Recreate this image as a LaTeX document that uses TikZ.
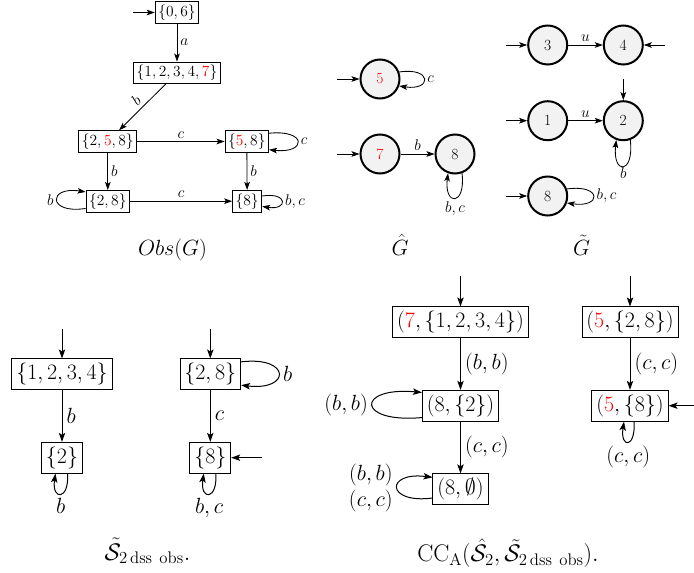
\RequirePackage{fix-cm}
\documentclass[tikz,border=0pt]{standalone}
\usetikzlibrary{arrows.meta}
\tikzset{
  ar/.style={-{Stealth[length=8pt,width=5.6pt,inset=1.8pt]}, line width=0.85pt},
  bar/.style={-{Stealth[length=9pt,width=6.4pt,inset=2pt]}, line width=1pt},
  tbox/.style={draw, line width=0.8pt, inner sep=3.1pt, font=\fontsize{15.5}{18}\selectfont},
  tcirc/.style={circle, draw, line width=2pt, fill=gray!10, minimum size=39pt, inner sep=0pt, font=\fontsize{15.5}{18}\selectfont},
  tlab/.style={font=\fontsize{15.5}{18}\selectfont, inner sep=3pt},
  bbox/.style={draw, line width=0.9pt, inner sep=4.4pt, font=\fontsize{22}{26}\selectfont},
  blab/.style={font=\fontsize{22}{26}\selectfont, inner sep=4pt},
  tcap/.style={font=\fontsize{22}{26}\selectfont, anchor=base, inner sep=0pt},
  bcap/.style={font=\fontsize{24}{28}\selectfont, anchor=base, inner sep=0pt},
}
\begin{document}
\begin{tikzpicture}[x=1pt,y=-1pt]
\useasboundingbox (0,0) rectangle (694,573);

% ---------- Obs(G) ----------
\node[tbox] (o06) at (177,12.5) {$\{0,6\}$};
\node[tbox] (o12347) at (177,72.8) {$\{1,2,3,4,\textcolor{red}{7}\}$};
\node[tbox] (o258) at (107.8,141.5) {$\{2,\textcolor{red}{5},8\}$};
\node[tbox] (o58) at (246.8,141.5) {$\{\textcolor{red}{5},8\}$};
\node[tbox] (o28) at (107.8,201.2) {$\{2,8\}$};
\node[tbox] (o8) at (247.2,201.2) {$\{8\}$};
\coordinate (i06) at (133,12.5);
\draw[ar] (i06) -- (o06);
\draw[ar] (o06) -- node[tlab,right]{$a$} (o12347);
\draw[ar] (o12347) -- node[tlab,above,sloped]{$b$} (o258);
\draw[ar] (o258) -- node[tlab,above]{$c$} (o58);
\draw[ar] (o258) -- node[tlab,right]{$b$} (o28);
\draw[ar] (o58) -- node[tlab,right]{$b$} (o8);
\draw[ar] (o28) -- node[tlab,above]{$c$} (o8);
\draw[ar] ([yshift=-3pt]o58.north east) .. controls +(38,-4) and +(38,4) .. ([yshift=3pt]o58.south east) node[pos=.5,tlab,right]{$c$};
\draw[ar] ([yshift=4pt]o28.south west) .. controls +(-38,6) and +(-38,-6) .. ([yshift=-2pt]o28.north west) node[pos=.5,tlab,left]{$b$};
\draw[ar] ([yshift=-6pt]o8.north east) .. controls +(26,-4) and +(26,4) .. ([yshift=6pt]o8.south east) node[pos=.5,tlab,right]{$b,c$};
\node[tcap] (capobs) at (172.5,255) {$Obs(G)$};

% ---------- G hat ----------
\node[tcirc] (h5) at (380,79) {\textcolor{red}{5}};
\node[tcirc] (h7) at (380,154) {\textcolor{red}{7}};
\node[tcirc] (h8) at (455,154) {8};
\coordinate (ih5) at (337,79);
\coordinate (ih7) at (337,154);
\draw[ar] (ih5) -- (h5);
\draw[ar] (ih7) -- (h7);
\draw[ar] (h7) -- node[tlab,above]{$b$} (h8);
\draw[ar] (h5.20) .. controls +(33,-5) and +(33,5) .. (h5.-20) node[pos=.5,tlab,right]{$c$};
\draw[ar] (h8.-70) .. controls +(4,33) and +(-4,33) .. (h8.-110) node[pos=.5,tlab,below]{$b,c$};
\node[tcap] (caph) at (400,255) {$\hat{G}$};

% ---------- G tilde ----------
\node[tcirc] (g3) at (547.7,45) {3};
\node[tcirc] (g4) at (623.3,45) {4};
\node[tcirc] (g1) at (547.7,120.7) {1};
\node[tcirc] (g2) at (623.3,120.7) {2};
\node[tcirc] (g8) at (547.7,196) {8};
\coordinate (ig3) at (505.7,45);
\coordinate (ig1) at (505.7,120.7);
\coordinate (ig8) at (505.7,196);
\coordinate (ig4) at (665,45);
\coordinate (ig2) at (623.3,79);
\draw[ar] (ig3) -- (g3);
\draw[ar] (ig1) -- (g1);
\draw[ar] (ig8) -- (g8);
\draw[ar] (ig4) -- (g4);
\draw[ar] (ig2) -- (g2);
\draw[ar] (g3) -- node[tlab,above]{$u$} (g4);
\draw[ar] (g1) -- node[tlab,above]{$u$} (g2);
\draw[ar] (g2.-70) .. controls +(4,35) and +(-4,35) .. (g2.-110) node[pos=.5,tlab,below,inner sep=1pt]{$b$};
\draw[ar] (g8.20) .. controls +(35,-5) and +(35,5) .. (g8.-20) node[pos=.5,tlab,right]{$b,c$};
\node[tcap] (capg) at (581.5,255) {$\tilde{G}$};

% ---------- S tilde dss obs ----------
\node[bbox] (s1234) at (62,374.3) {$\{1,2,3,4\}$};
\node[bbox] (s2) at (62,457.7) {$\{2\}$};
\node[bbox] (s28) at (210.3,374.3) {$\{2,8\}$};
\node[bbox] (s8) at (210.3,457.7) {$\{8\}$};
\coordinate (is1234) at (62,329);
\coordinate (is28) at (210.3,329);
\coordinate (is8) at (261.7,457.7);
\draw[bar] (is1234) -- (s1234);
\draw[bar] (is28) -- (s28);
\draw[bar] (is8) -- (s8);
\draw[bar] (s1234) -- node[blab,right]{$b$} (s2);
\draw[bar] (s28) -- node[blab,right]{$c$} (s8);
\draw[bar] ([xshift=5.5pt]s2.south) .. controls +(2,27) and +(-4,27) .. ([xshift=-6.5pt]s2.south) node[pos=.5,blab,below]{$b$};
\draw[bar] ([yshift=-3.4pt]s28.north east) .. controls +(50,-6) and +(50,6) .. ([yshift=5pt]s28.south east) node[pos=.5,blab,right]{$b$};
\draw[bar] ([xshift=5.5pt]s8.south) .. controls +(2,27) and +(-4,27) .. ([xshift=-6.5pt]s8.south) node[pos=.5,blab,below]{$b,c$};
\node[bcap] (caps) at (147.5,560) {$\tilde{\mathcal{S}}_{2\,\mathrm{dss\ obs}}.$};

% ---------- CC_A ----------
\node[bbox] (p7) at (460.5,322.3) {$(\textcolor{red}{7},\{1,2,3,4\})$};
\node[bbox] (p82) at (460.5,405.7) {$(8,\{2\})$};
\node[bbox] (p80) at (460.5,489.2) {$(8,\emptyset)$};
\node[bbox] (p5a) at (630,322.3) {$(\textcolor{red}{5},\{2,8\})$};
\node[bbox] (p5b) at (630,405.7) {$(\textcolor{red}{5},\{8\})$};
\coordinate (ip7) at (460.5,276);
\coordinate (ip5a) at (630,276);
\coordinate (ip5b) at (694,405.7);
\draw[bar] (ip7) -- (p7);
\draw[bar] (ip5a) -- (p5a);
\draw[bar] (ip5b) -- (p5b);
\draw[bar] (p7) -- node[blab,right]{$(b,b)$} (p82);
\draw[bar] (p82) -- node[blab,right]{$(c,c)$} (p80);
\draw[bar] (p5a) -- node[blab,right]{$(c,c)$} (p5b);
\draw[bar] ([yshift=4pt]p82.south west) .. controls +(-66,6) and +(-66,-6) .. ([yshift=-2.6pt]p82.north west) node[pos=.5,blab,left]{$(b,b)$};
\draw[bar] ([yshift=7pt]p80.south west) .. controls +(-47,6) and +(-47,-6) .. ([yshift=-4pt]p80.north west) node[pos=.5,blab,left,align=center]{$(b,b)$\\$(c,c)$};
\draw[bar] ([xshift=4pt]p5b.south) .. controls +(2,27) and +(-4,27) .. ([xshift=-6pt]p5b.south) node[pos=.5,blab,below]{$(c,c)$};
\node[bcap] (capcc) at (508,561.7) {$\mathrm{CC}_{\mathrm{A}}(\hat{\mathcal{S}}_2,\tilde{\mathcal{S}}_{2\,\mathrm{dss\ obs}}).$};
\end{tikzpicture}
\end{document}
